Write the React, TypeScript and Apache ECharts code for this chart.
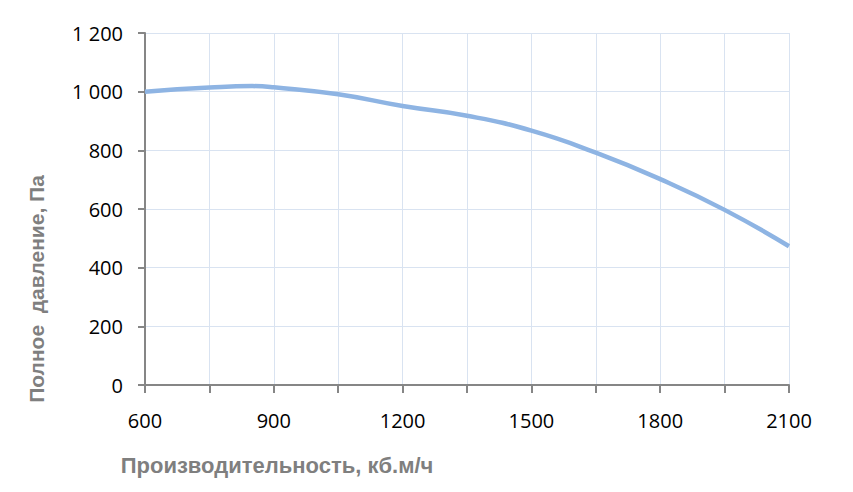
import { useEffect, useRef } from 'react';
import * as echarts from 'echarts';

// расход, м3/ч и полное давление, Па
const flow = [600, 750, 850, 900, 1050, 1200, 1350, 1500, 1650, 1800, 1950, 2100];
const pressure = [1000, 1014, 1019, 1015, 991, 951, 918, 867, 792, 702, 597, 473];

const xTitle = 'Производительность, кб.м/ч';
const yTitle = 'Полное  давление, Па';

const fmtThousands = (v: number) =>
  String(v).replace(/\B(?=(\d{3})+(?!\d))/g, ' ');

export default function App() {
  const chartRef = useRef<HTMLDivElement>(null);

  useEffect(() => {
    if (!chartRef.current) return;
    document.body.style.margin = '0';
    const chart = echarts.init(chartRef.current, null, { renderer: 'svg' });

    const tickFont = { color: '#000', fontSize: 20, fontFamily: "'Open Sans', sans-serif" };

    const option: echarts.EChartsOption = {
      animation: false,
      backgroundColor: '#fff',
      grid: { left: 145, right: 64, top: 33, bottom: 107 },
      xAxis: {
        type: 'value',
        min: 600,
        max: 2100,
        interval: 150,
        axisLine: { lineStyle: { color: '#868686', width: 2 } },
        axisTick: { show: true, length: 8, lineStyle: { color: '#868686', width: 2 } },
        axisLabel: {
          ...tickFont,
          margin: 25,
          formatter: (v: number) => (v % 300 === 0 ? String(v) : ''),
        },
        splitLine: { show: true, lineStyle: { color: '#d9e3f1', width: 1 } },
      },
      yAxis: {
        type: 'value',
        min: 0,
        max: 1200,
        interval: 200,
        axisLine: { show: true, lineStyle: { color: '#868686', width: 2 } },
        axisTick: { show: true, length: 7, lineStyle: { color: '#868686', width: 2 } },
        axisLabel: { ...tickFont, margin: 22, formatter: (v: number) => fmtThousands(v) },
        splitLine: { show: true, lineStyle: { color: '#d9e3f1', width: 1 } },
      },
      graphic: [
        {
          type: 'text',
          x: 277,
          y: 465,
          style: {
            text: xTitle,
            fill: '#7f7f7f',
            font: "bold 22px 'Liberation Sans', Arial, sans-serif",
            align: 'center',
            verticalAlign: 'middle',
          },
        },
        {
          type: 'text',
          x: 36,
          y: 289,
          rotation: Math.PI / 2,
          style: {
            text: yTitle,
            fill: '#7f7f7f',
            font: "bold 21px 'Liberation Sans', Arial, sans-serif",
            align: 'center',
            verticalAlign: 'middle',
          },
        },
      ],
      series: [
        {
          type: 'line',
          data: flow.map((f, i) => [f, pressure[i]]),
          smooth: 0.5,
          showSymbol: false,
          lineStyle: { color: '#8eb4e3', width: 4.5 },
        },
      ],
    };

    chart.setOption(option);
    return () => chart.dispose();
  }, []);

  return <div ref={chartRef} style={{ width: 853, height: 492 }} />;
}
